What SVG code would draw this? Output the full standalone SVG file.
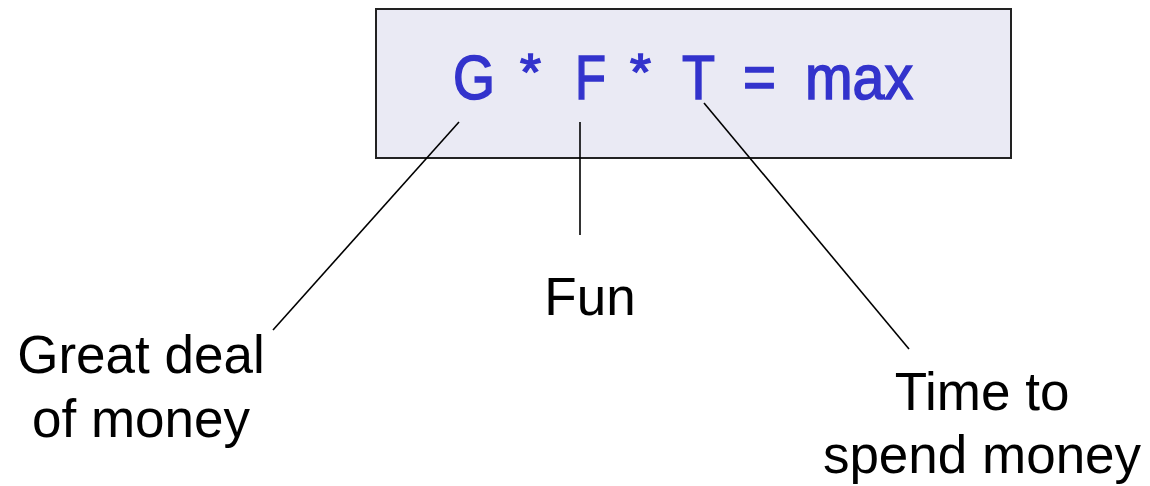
<svg xmlns="http://www.w3.org/2000/svg" width="1150" height="486" viewBox="0 0 1150 486">
<style>
.lbl{font-family:"Liberation Sans",Arial,sans-serif;font-size:53px;fill:#000;text-anchor:middle}
.f{font-family:"Liberation Sans",Arial,sans-serif;font-size:63px;fill:#3333CC;stroke:#3333CC;stroke-width:1.6}
.s{font-size:52px}
.c{stroke:#000;stroke-width:1.6;fill:none}
</style>
<rect width="1150" height="486" fill="#fff"/>
<g id="formula">
<rect x="376" y="9" width="635" height="149" fill="#EAEAF4" stroke="#222" stroke-width="2"/>
<text class="f" x="453" y="99" textLength="42" lengthAdjust="spacingAndGlyphs">G</text>
<text class="f s" x="520" y="90" textLength="21" lengthAdjust="spacingAndGlyphs">*</text>
<text class="f" x="575" y="99" textLength="31" lengthAdjust="spacingAndGlyphs">F</text>
<text class="f s" x="630" y="90" textLength="21" lengthAdjust="spacingAndGlyphs">*</text>
<text class="f" x="682" y="99" textLength="33" lengthAdjust="spacingAndGlyphs">T</text>
<text class="f" x="743" y="99" textLength="33" lengthAdjust="spacingAndGlyphs">=</text>
<text class="f" x="805" y="99" textLength="108" lengthAdjust="spacingAndGlyphs">max</text>
</g>
<g id="connectors">
<line class="c" x1="459" y1="122" x2="273" y2="330"/>
<line class="c" x1="580" y1="122" x2="580" y2="235"/>
<line class="c" x1="704" y1="103" x2="909" y2="349"/>
</g>
<g id="great">
<text class="lbl" x="141" y="373">Great deal</text>
<text class="lbl" x="141" y="437">of money</text>
</g>
<g id="fun">
<text class="lbl" x="590" y="315">Fun</text>
</g>
<g id="time">
<text class="lbl" x="982" y="410">Time to</text>
<text class="lbl" x="982" y="473">spend money</text>
</g>
</svg>
